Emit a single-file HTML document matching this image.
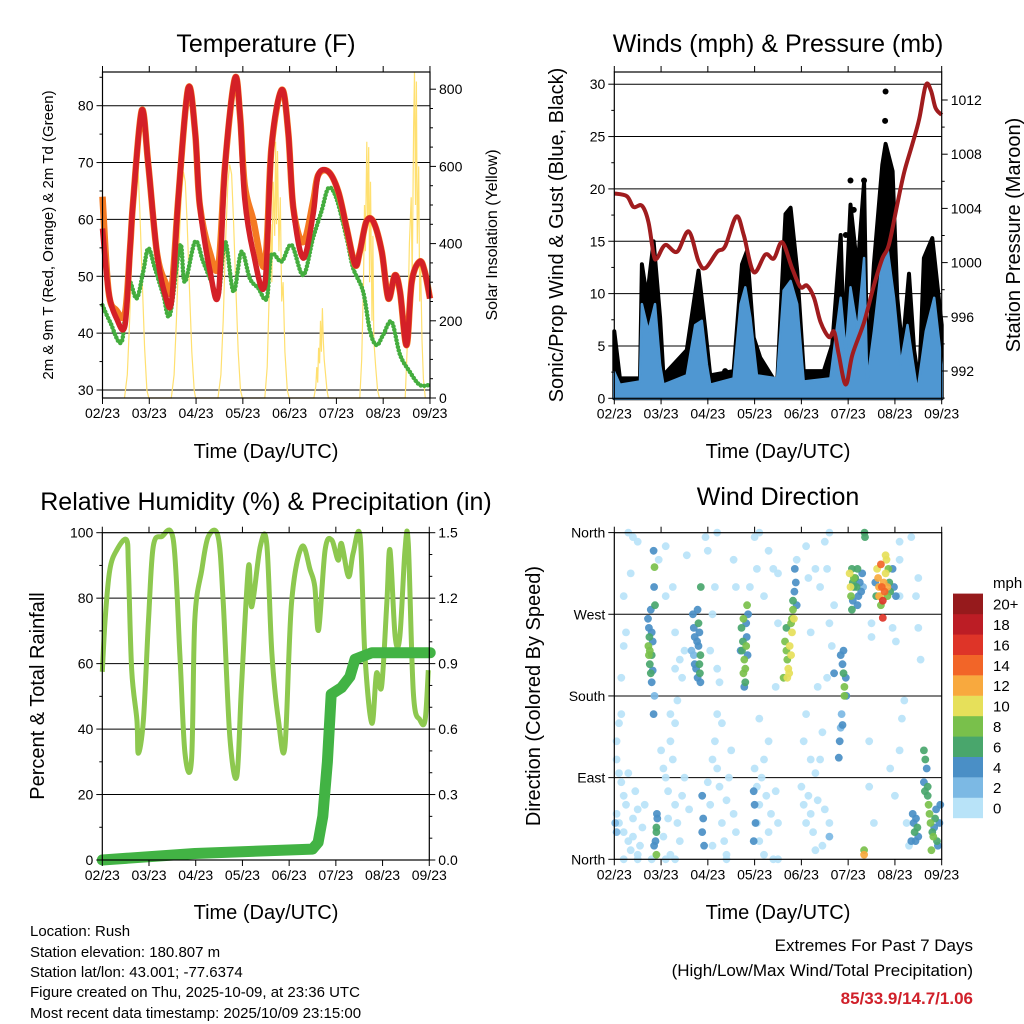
<!DOCTYPE html>
<html><head><meta charset="utf-8"><style>
html,body{margin:0;padding:0;background:#fff;}
svg{display:block;font-family:"Liberation Sans",sans-serif;}
</style></head><body>
<svg id="chart" width="1024" height="1024" viewBox="0 0 1024 1024" xmlns="http://www.w3.org/2000/svg">
<rect width="1024" height="1024" fill="#fff"/>
<g id="layer"></g>
<text x="266" y="52" font-size="25" text-anchor="middle">Temperature (F)</text>
<text x="778" y="52" font-size="25" text-anchor="middle">Winds (mph) &amp; Pressure (mb)</text>
<text x="266" y="510" font-size="25" text-anchor="middle">Relative Humidity (%) &amp; Precipitation (in)</text>
<text x="778" y="505" font-size="25" text-anchor="middle">Wind Direction</text>
<text x="266" y="458" font-size="20" text-anchor="middle">Time (Day/UTC)</text>
<text x="778" y="458" font-size="20" text-anchor="middle">Time (Day/UTC)</text>
<text x="266" y="919" font-size="20" text-anchor="middle">Time (Day/UTC)</text>
<text x="778" y="919" font-size="20" text-anchor="middle">Time (Day/UTC)</text>
<text transform="translate(53,235) rotate(-90)" font-size="15" text-anchor="middle">2m &amp; 9m T (Red, Orange) &amp; 2m Td (Green)</text>
<text transform="translate(497,235) rotate(-90)" font-size="16" text-anchor="middle">Solar Insolation (Yellow)</text>
<text transform="translate(563,235) rotate(-90)" font-size="20" text-anchor="middle">Sonic/Prop Wind &amp; Gust (Blue, Black)</text>
<text transform="translate(1020,235) rotate(-90)" font-size="20" text-anchor="middle">Station Pressure (Maroon)</text>
<text transform="translate(44,696) rotate(-90)" font-size="20" text-anchor="middle">Percent &amp; Total Rainfall</text>
<text transform="translate(540,696) rotate(-90)" font-size="20" text-anchor="middle">Direction (Colored By Speed)</text>
<g font-size="15">
<text x="30" y="936">Location: Rush</text>
<text x="30" y="957">Station elevation: 180.807 m</text>
<text x="30" y="977">Station lat/lon: 43.001; -77.6374</text>
<text x="30" y="997">Figure created on Thu, 2025-10-09, at 23:36 UTC</text>
<text x="30" y="1018">Most recent data timestamp: 2025/10/09 23:15:00</text>
</g>
<text x="973" y="951" font-size="17" text-anchor="end">Extremes For Past 7 Days</text>
<text x="973" y="976" font-size="17" text-anchor="end">(High/Low/Max Wind/Total Precipitation)</text>
<text x="973" y="1004" font-size="17" font-weight="bold" fill="#d0202a" text-anchor="end">85/33.9/14.7/1.06</text>
</svg>
<script>
// ---------- data ----------
const dayLabels = ["02/23","03/23","04/23","05/23","06/23","07/23","08/23","09/23"];
const tempTicks = [30,40,50,60,70,80];
const solarTicks = [0,200,400,600,800];
const windTicks = [0,5,10,15,20,25,30];
const presTicks = [992,996,1000,1004,1008,1012];
const rhTicks = [0,20,40,60,80,100];
const rainTicks = ["0.0","0.3","0.6","0.9","1.2","1.5"];
const dirLabels = ["North","East","South","West","North"];
const dirTicks = [0,90,180,270,360];
const legendLabels = ["0","2","4","6","8","10","12","14","16","18","20+"];
const legendColors = ["#b8e3f8","#7cb9e4","#4a8fc6","#49a66c","#79c04b","#e6e05a","#f8a93e","#f26528","#de3428","#bc1d25","#961a1c"];

const redT = [0,0.13,0.30,0.48,0.59,0.66,0.84,0.98,1.16,1.34,1.48,1.62,1.83,1.98,2.08,2.30,2.48,2.62,2.83,2.94,3.04,3.22,3.47,3.61,3.83,3.97,4.08,4.29,4.50,4.61,4.83,5.04,5.22,5.40,5.50,5.64,5.79,5.97,6.11,6.25,6.36,6.50,6.61,6.78,6.89,7.0];
const redV = [58.4,47.3,42.6,41.4,55,63.7,79.2,69.6,54.3,46.7,45.8,63.7,83,75.4,62.5,50.8,47,69.6,84.8,78.4,63.7,54.3,48.5,72.5,82.8,75.4,61.9,53.2,60.8,67.8,68.4,64.9,58.4,52,54.3,59.6,59.6,54.3,46.1,50.2,47.3,37.9,49,52.6,50.8,46.1];
const orangeV = [64,47.3,44,43.5,55,63.7,79.2,69.6,54.3,49,48,63.7,83,75.4,62.5,54,52,69.6,84.8,78.4,66,60,52,72.5,82.8,75.4,61.9,56,63,67.8,68.4,64.9,58.4,52,54.3,59.6,59.6,54.3,46.1,50.2,47.3,37.9,49,52.6,50.8,46.1];
const greenT = [0,0.16,0.41,0.55,0.73,0.87,0.98,1.12,1.30,1.44,1.66,1.76,1.98,2.15,2.33,2.48,2.62,2.80,2.97,3.15,3.33,3.51,3.61,3.83,4.04,4.29,4.50,4.68,4.83,5.00,5.22,5.36,5.57,5.72,5.86,6.0,6.18,6.36,6.57,6.78,7.0];
const greenV = [44.9,42,38.5,49,46.1,50.8,54.9,51.4,46.7,43.2,55.5,49,56.1,52.6,49,46.7,56.1,47.3,54.3,49.6,47.9,46.1,53.7,52.6,55.5,50.2,56.7,61.4,65.5,63.7,56.7,51.4,47.3,40.3,37.9,39.7,42,36.2,33.2,30.9,30.9];
const solarT = [0.47,0.53,0.58,0.63,0.68,0.72,0.76,0.8,0.85,0.9,0.95,0.99,1.47,1.53,1.58,1.63,1.68,1.73,1.77,1.81,1.86,1.91,1.96,1.99,2.47,2.53,2.58,2.63,2.68,2.72,2.76,2.8,2.85,2.9,2.95,2.99,3.47,3.52,3.56,3.6,3.62,3.65,3.68,3.7,3.72,3.74,3.77,3.8,3.83,3.86,3.9,3.95,3.99,4.52,4.56,4.58,4.6,4.62,4.64,4.66,4.68,4.7,4.72,4.74,4.77,4.8,4.83,5.5,5.54,5.58,5.6,5.62,5.65,5.67,5.69,5.71,5.73,5.76,5.78,5.8,5.84,5.88,5.92,6.47,6.52,6.56,6.6,6.62,6.65,6.67,6.69,6.71,6.73,6.76,6.78,6.8,6.83,6.86,6.9];
const solarV = [0,60,200,380,540,610,590,480,300,130,20,0,0,60,200,380,520,586,560,450,280,120,20,0,0,60,200,400,560,605,580,460,290,120,20,0,0,80,250,450,300,560,420,664,450,640,380,520,250,300,120,20,0,0,30,80,40,130,90,200,120,233,150,100,60,20,0,0,100,300,500,380,664,450,650,300,560,200,420,150,80,20,0,0,150,400,520,300,700,845,500,820,400,600,250,350,150,50,0];

const presT = [0,0.27,0.41,0.59,0.73,0.84,0.91,1.09,1.34,1.59,1.80,1.95,2.20,2.37,2.61,2.77,2.98,3.23,3.41,3.59,3.80,3.98,4.12,4.27,4.41,4.59,4.70,4.80,4.95,5.09,5.34,5.55,5.73,5.87,6.05,6.20,6.37,6.52,6.66,6.77,6.87,7.0];
const presV = [1005.1,1004.9,1004.1,1004.2,1003.0,1000.6,1000.3,1001.3,1000.8,1002.3,1000.1,999.6,1000.8,1001.2,1003.4,1002.0,999.3,1000.6,1000.3,1001.5,999.6,998.2,998.3,997.4,995.6,994.5,994.9,993.2,991.0,993.2,995.6,998.3,1000.3,1001.3,1004.3,1006.7,1008.7,1010.6,1013.1,1012.7,1011.4,1010.9];
const windT = [0,0.12,0.55,0.59,0.73,0.87,0.98,1.05,1.55,1.73,1.87,1.98,2.05,2.55,2.70,2.80,2.91,3.05,3.48,3.62,3.77,3.91,4.05,4.62,4.84,4.95,5.05,5.20,5.34,5.41,5.55,5.70,5.84,5.98,6.12,6.27,6.37,6.48,6.66,6.84,7.0];
const windHigh = [2.5,1.3,1.6,9.0,6.4,9.0,3.2,1.3,2.2,7.0,7.4,3.2,1.3,1.9,9.0,10.6,7.7,2.2,1.9,10.3,11.2,9.0,1.6,1.9,9.6,4.3,10.6,6.4,13.4,1.6,6.4,12.2,14.4,9.6,3.2,7.0,3.9,0.6,6.4,9.6,3.2];
const gustT = [0,0.12,0.55,0.59,0.70,0.84,0.98,1.05,1.55,1.80,1.95,2.05,2.55,2.73,2.84,2.98,3.12,3.48,3.66,3.77,3.91,4.05,4.48,4.66,4.84,4.91,5.05,5.20,5.34,5.41,5.55,5.73,5.80,5.95,6.05,6.16,6.30,6.41,6.52,6.62,6.80,7.0];
const gustHigh = [6.4,1.9,1.9,12.8,9.6,15.0,7.7,2.2,4.6,12.2,6.4,2.2,2.6,12.8,14.1,5.8,3.9,1.3,17.6,18.2,12.2,2.6,2.6,5.1,15.6,5.0,18.5,12.2,20.7,2.5,12.8,22.3,24.3,21.7,9.6,4.6,11.9,4.6,1.3,13.4,15.3,7.0];
const gustOutT = [5.80,5.79,5.05,5.34,2.37,4.95,5.12];
const gustOutV = [29.3,26.5,20.8,20.8,2.6,15.6,18.0];

const rhT = [0,0.06,0.16,0.31,0.52,0.56,0.63,0.74,0.77,0.88,0.99,1.09,1.27,1.52,1.66,1.77,1.91,1.98,2.13,2.27,2.48,2.59,2.73,2.88,2.98,3.13,3.20,3.38,3.52,3.63,3.77,3.91,4.05,4.27,4.45,4.55,4.63,4.77,4.91,5.05,5.12,5.27,5.37,5.52,5.62,5.77,5.87,5.98,6.09,6.16,6.27,6.37,6.48,6.55,6.66,6.80,6.91,6.98];
const rhV = [57.5,73.3,88.6,94.7,97.8,88.6,58,42.8,32.6,42.8,73.3,95.7,98.8,97.8,63.1,32.6,30.5,73.3,88.6,98.8,98.8,78.4,37.7,25.5,53,89.6,77.4,95.7,96.7,63.1,42.8,34.6,78.4,95.7,88.6,83.5,70.3,94.7,97.8,91.6,96.7,86.6,93.7,98.8,63.1,41.8,57,53,78.4,94.7,68.2,68.2,94.7,96.7,50.9,42.8,42.8,58];
const rainT = [0,1.98,4.50,4.62,4.72,4.82,4.90,5.12,5.30,5.41,5.77,6.98,7.02];
const rainV = [0,0.03,0.05,0.08,0.2,0.45,0.76,0.79,0.84,0.92,0.95,0.95,0.95];

const dirT = [0.72,0.74,0.75,0.73,0.74,0.76,0.78,0.8,0.78,0.8,0.82,0.8,0.76,0.82,0.86,0.84,0.84,0.86,0.85,0.87,0.91,0.9,0.9,0.88,0.9,0.92,0.85,
1.68,1.7,1.72,1.65,1.7,1.72,1.78,1.8,1.82,1.8,1.84,1.82,1.83,1.84,1.85,1.77,1.75,1.78,1.88,1.9,1.88,1.92,
2.72,2.75,2.73,2.78,2.76,2.8,2.78,2.82,2.83,2.85,2.84,2.86,2.8,2.76,2.7,2.82,2.98,3.0,3.02,2.98,
3.65,3.68,3.7,3.72,3.7,3.75,3.78,3.8,3.8,3.82,3.84,3.78,3.82,3.85,3.88,3.86,3.62,3.68,3.74,3.9,
4.84,4.88,4.9,4.92,4.92,4.9,4.95,4.96,4.86,4.84,4.82,4.8,4.88,4.7,
5.03,5.05,5.06,5.08,5.1,5.12,5.15,5.18,5.2,5.22,5.25,5.28,5.3,5.32,5.08,5.1,5.35,5.36,5.2,5.12,
5.62,5.64,5.66,5.68,5.7,5.72,5.74,5.76,5.78,5.8,5.82,5.84,5.86,5.88,5.9,5.95,5.98,6.02,5.74,5.6,5.58,5.7,5.66,5.84,5.8,
6.38,6.4,6.42,6.45,6.48,6.5,6.44,6.35,
6.62,6.65,6.68,6.62,6.64,6.7,6.7,6.72,6.74,6.76,6.8,6.82,6.84,6.86,6.88,6.9,6.95,6.92,6.78,6.97,5.34,5.34,
0.3,0.4,0.5,0.35,0.2,0.15,0.2,0.25,0.95,1.1,1.1,1.25,1.3,1.3,1.45,1.4,1.5,1.55,1.95,2.0,2.2,2.15,2.1,2.05,2.2,2.25,2.55,2.6,2.9,3.0,3.05,3.1,3.2,3.3,3.4,3.5,3.5,3.45,3.9,4.1,4.15,4.2,4.3,4.4,4.5,4.6,4.55,4.35,4.55,4.6,4.7,4.65,5.5,5.5,5.95,6.02,6.1,6.35,6.45,6.5,6.5,6.55,6.1,6.1,
0.05,0.1,0.15,0.05,0.1,0.15,0.2,0.25,0.05,0.1,0.2,0.3,0.35,0.4,0.45,0.5,0.6,0.55,0.3,0.4,0.5,0.65,0.05,0.02,
1.0,1.05,1.1,1.15,1.2,1.2,1.25,1.3,1.35,1.4,1.45,1.3,1.15,1.05,1.2,1.5,1.6,1.35,
2.0,2.05,2.1,2.15,2.2,2.25,2.3,2.35,2.4,2.45,2.5,2.55,2.6,2.2,2.3,2.4,2.1,
3.0,3.05,3.1,3.05,3.1,3.15,3.2,3.25,3.3,3.35,3.2,3.45,3.5,3.1,3.3,
4.0,4.05,4.1,4.15,4.2,4.25,4.3,4.35,4.4,4.45,4.5,4.05,4.1,4.2,4.45,4.3,4.6,4.6,
5.45,5.45,5.55,5.9,6.0,6.2,6.15,6.1,6.25,6.3,
0.2,0.5,0.8,1.1,1.3,2.4,3.4,3.5];
const dirDeg = [265,255,245,235,225,215,205,195,275,250,240,225,230,208,180,160,340,322,300,280,50,35,30,20,5,45,15,
270,255,245,230,225,215,275,260,250,235,225,215,205,195,300,240,210,200,70,45,30,15,
255,240,230,220,205,195,190,260,245,225,280,270,210,265,230,235,75,60,40,20,
240,230,220,210,200,235,225,250,265,275,265,260,285,295,305,320,200,255,205,280,
225,215,205,190,180,230,200,180,160,145,130,112,148,205,
315,300,290,320,305,300,310,300,320,290,305,295,315,300,275,285,360,355,280,310,
320,310,300,290,325,300,285,305,295,315,330,300,320,305,295,320,300,290,266,290,305,280,290,290,335,
50,40,30,45,35,25,20,20,
120,110,100,85,75,80,70,60,50,40,30,25,35,45,55,20,40,15,10,60,5,10,
360,355,350,315,290,200,235,250,330,345,290,300,250,210,200,220,230,335,355,340,360,300,270,230,210,195,330,300,300,355,320,360,290,340,320,315,260,190,330,345,310,250,320,300,350,360,320,190,200,260,280,235,260,245,255,240,330,355,290,310,255,220,290,350,
130,150,160,110,95,85,70,60,50,40,30,20,10,45,75,55,35,15,95,25,5,60,30,40,
120,100,90,75,130,160,110,60,40,20,70,150,45,25,5,90,55,175,
85,60,110,130,100,80,40,20,65,90,120,50,30,160,150,5,15,
100,80,60,40,20,90,110,70,30,50,5,75,40,155,130,
80,60,40,70,50,30,95,65,110,15,55,130,160,110,140,10,40,25,
130,80,40,100,70,175,155,120,40,15,
0,0,0,0,0,0,0,0];
const dirSpd = [4,4,6,8,8,7,6,4,4,5,4,7,8,4,3,4,4,8,4,6,4,6,6,5,8,4,4,
4,4,4,3,3,4,4,6,4,4,6,6,6,4,6,4,4,4,4,4,4,4,
6,6,6,8,8,6,4,4,4,4,8,4,8,8,4,8,4,4,4,4,
8,8,8,10,10,10,10,10,8,8,10,8,6,4,4,4,8,6,10,4,
4,4,6,8,8,4,4,4,3,3,4,4,4,4,
10,10,8,6,6,6,6,6,6,4,4,4,4,2,6,4,6,6,4,8,
10,12,12,10,14,14,16,12,14,10,10,12,8,6,6,4,4,4,16,6,4,8,12,8,10,
4,4,6,4,6,4,4,4,
6,6,4,4,6,6,6,8,8,8,6,8,4,6,4,6,4,4,8,4,12,8,
1,1,1,1,1,1,1,1,1,1,1,1,1,1,1,1,1,1,1,1,1,1,1,1,1,1,1,1,1,1,1,1,1,1,1,1,1,1,1,1,1,1,1,1,1,1,1,1,1,1,1,1,1,1,1,1,1,1,1,1,1,1,1,1,
1,1,1,1,1,1,1,1,1,1,1,1,1,1,1,1,1,1,1,1,1,1,3,2,
1,1,1,1,1,1,1,1,1,1,1,1,1,1,1,1,1,1,
1,1,1,1,1,1,1,1,1,1,1,1,1,1,1,1,1,
1,1,1,1,1,1,1,1,1,1,1,1,1,1,1,
1,1,1,1,1,1,1,1,1,1,1,1,1,1,1,1,1,2,
1,1,1,1,1,1,1,1,1,1,
1,1,1,1,1,1,1,1];

// ---------- helpers ----------
const NS = "http://www.w3.org/2000/svg";
const layer = document.getElementById('layer');
function mk(tag, attrs, parent){
  const e = document.createElementNS(NS, tag);
  for (const k in attrs) e.setAttribute(k, attrs[k]);
  (parent || layer).appendChild(e);
  return e;
}
function pts(ts, vs, xf, yf){ return ts.map((t,i)=> xf(t).toFixed(1)+","+yf(vs[i]).toFixed(1)).join(" "); }
function smooth(ts, vs, xf, yf){
  const P = ts.map((t,i)=>[xf(t), yf(vs[i])]);
  let d = "M"+P[0][0].toFixed(1)+","+P[0][1].toFixed(1);
  for (let i=0;i<P.length-1;i++){
    const p0=P[Math.max(0,i-1)], p1=P[i], p2=P[i+1], p3=P[Math.min(P.length-1,i+2)];
    const c1=[p1[0]+(p2[0]-p0[0])/6, p1[1]+(p2[1]-p0[1])/6];
    const c2=[p2[0]-(p3[0]-p1[0])/6, p2[1]-(p3[1]-p1[1])/6];
    d += " C"+c1[0].toFixed(1)+","+c1[1].toFixed(1)+" "+c2[0].toFixed(1)+","+c2[1].toFixed(1)+" "+p2[0].toFixed(1)+","+p2[1].toFixed(1);
  }
  return d;
}

// scales
const P1 = {x0:102.5, x1:430, y0:72, y1:398};
const P2 = {x0:614.3, x1:941.7, y0:72, y1:398.3};
const P3 = {x0:102.3, x1:429.3, y0:532.7, y1:860};
const P4 = {x0:614.3, x1:941.7, y0:532.7, y1:859.3};
const x1s = d => P1.x0 + d*46.78;
const tempY = v => 390 - (v-30)*5.686;
const solarY = v => 398 - v*0.386;
const x2s = d => P2.x0 + d*46.77;
const windY = v => 398.3 - v*10.47;
const presY = p => 371 - (p-992)*13.55;
const x3s = d => P3.x0 + d*46.71;
const rhY = v => 860 - v*3.273;
const rainY = v => 860 - v*218.2;
const x4s = d => P4.x0 + d*46.77;
const dirY = v => 859.3 - v*0.9075;

function gridLine(P, y, name){
  const g = mk('line',{x1:P.x0,x2:P.x1,y1:y,y2:y,stroke:'#000','stroke-width':1});
  
  
}
function xAxis(P, xf, prefix){
  dayLabels.forEach((lab,i)=>{
    const x = xf(i);
    const tb = mk('line',{x1:x,x2:x,y1:P.y1,y2:P.y1+6,stroke:'#000','stroke-width':1});
    
    
    const tt = mk('line',{x1:x,x2:x,y1:P.y0,y2:P.y0-6,stroke:'#000','stroke-width':1});
    
    
    const t = mk('text',{x:x,y:P.y1+20,'font-size':14,'text-anchor':'middle'});
    t.textContent = lab;
    
    
  });
}
function yTicks(xEdge, dir, values, yf, labels, minor, prefix){
  values.forEach((v,i)=>{
    const y = yf(v);
    const tk = mk('line',{x1:xEdge,x2:xEdge+dir*6,y1:y,y2:y,stroke:'#000','stroke-width':1});
    
    
    if (labels){
      const t = mk('text',{x:xEdge+dir*9,y:y+5,'font-size':14,'text-anchor':dir<0?'end':'start'});
      t.textContent = labels[i];
      
      
    }
  });
  minor.forEach(v=>{
    const y = yf(v);
    const tk = mk('line',{x1:xEdge,x2:xEdge+dir*3,y1:y,y2:y,stroke:'#000','stroke-width':1});
    
    
  });
}
function frame(P, name){
  const r = mk('rect',{x:P.x0,y:P.y0,width:P.x1-P.x0,height:P.y1-P.y0,fill:'none',stroke:'#000','stroke-width':1.2});
  
  
}

// ---------- Panel 1: temperature ----------
tempTicks.forEach(v=>gridLine(P1, tempY(v), 'temp-gridline'));
const sol = mk('polyline',{points:pts(solarT,solarV,x1s,solarY),fill:'none',stroke:'#ffe070','stroke-width':1.2});


const gr = mk('path',{d:smooth(greenT,greenV,x1s,tempY),fill:'none',stroke:'#44ad3e','stroke-width':4.5,'stroke-linejoin':'round','stroke-linecap':'round','stroke-dasharray':'0 3.5'});


const org = mk('path',{d:smooth(redT,orangeV,x1s,tempY),fill:'none',stroke:'#f47a22','stroke-width':6.5,'stroke-linejoin':'round'});


const red = mk('path',{d:smooth(redT,redV,x1s,tempY),fill:'none',stroke:'#d42027','stroke-width':5.5,'stroke-linejoin':'round'});


frame(P1,'temp-plot-frame');
xAxis(P1, x1s, 'temp');
yTicks(P1.x0,-1,tempTicks,tempY,tempTicks.map(String),[35,45,55,65,75,85],'temp-y');
yTicks(P1.x1,1,solarTicks,solarY,solarTicks.map(String),[50,100,150,250,300,350,450,500,550,650,700,750],'solar-y');

// ---------- Panel 2: winds ----------
windTicks.slice(1).forEach(v=>gridLine(P2, windY(v), 'wind-gridline'));
const gustPoly = gustT.map((t,i)=>x2s(t).toFixed(1)+","+windY(gustHigh[i]).toFixed(1)).join(" ") + " " + x2s(7).toFixed(1)+","+windY(0)+" "+x2s(0)+","+windY(0);
const gust = mk('polygon',{points:gustPoly,fill:'#000',stroke:'#000','stroke-width':4,'stroke-linejoin':'round'});


gustOutT.forEach((t,i)=>{
  const c = mk('circle',{cx:x2s(t),cy:windY(gustOutV[i]),r:3,fill:'#000'});
  
  
});
const bluePoly = windT.map((t,i)=>x2s(t).toFixed(1)+","+windY(windHigh[i]).toFixed(1)).join(" ") + " " + x2s(7).toFixed(1)+","+windY(0)+" "+x2s(0)+","+windY(0);
const blue = mk('polygon',{points:bluePoly,fill:'#4f97d2',stroke:'#4f97d2','stroke-width':2.5,'stroke-linejoin':'round'});


const pres = mk('path',{d:smooth(presT,presV,x2s,presY),fill:'none',stroke:'#a01c1e','stroke-width':4,'stroke-linejoin':'round'});


frame(P2,'wind-plot-frame');
xAxis(P2, x2s, 'wind');
yTicks(P2.x0,-1,windTicks,windY,windTicks.map(String),[2.5,7.5,12.5,17.5,22.5,27.5],'wind-y');
yTicks(P2.x1,1,presTicks,presY,presTicks.map(String),[990,994,998,1002,1006,1010],'pressure-y');

// ---------- Panel 3: humidity ----------
rhTicks.slice(1,5).forEach(v=>gridLine(P3, rhY(v), 'rh-gridline'));
const rh = mk('path',{d:smooth(rhT,rhV,x3s,rhY),fill:'none',stroke:'#8dc84f','stroke-width':5,'stroke-linejoin':'round'});


const rain = mk('polyline',{points:pts(rainT,rainV,x3s,rainY),fill:'none',stroke:'#42b344','stroke-width':11,'stroke-linejoin':'round','stroke-linecap':'round'});


frame(P3,'rh-plot-frame');
xAxis(P3, x3s, 'rh');
yTicks(P3.x0,-1,rhTicks,rhY,rhTicks.map(String),[10,30,50,70,90],'rh-y');
yTicks(P3.x1,1,rainTicks.map(Number),rainY,rainTicks,[0.1,0.2,0.4,0.5,0.7,0.8,1.0,1.1,1.3,1.4],'rain-y');

// ---------- Panel 4: wind direction ----------
[90,180,270].forEach(v=>gridLine(P4, dirY(v), 'dir-gridline'));
function binColor(s){ const b = Math.min(10, Math.floor(s/2)); return legendColors[b]; }
const order = dirT.map((t,i)=>i).sort((a,b)=>dirSpd[a]-dirSpd[b]);
order.forEach(i=>{
  const c = mk('circle',{cx:x4s(dirT[i]).toFixed(1),cy:dirY(dirDeg[i]).toFixed(1),r:3.9,fill:binColor(dirSpd[i]),'fill-opacity':0.92});
  
  
});
frame(P4,'dir-plot-frame');
xAxis(P4, x4s, 'dir');
yTicks(P4.x0,-1,dirTicks,dirY,dirLabels,[],'dir-y');
const mphT = mk('text',{x:993,y:588,'font-size':15});
mphT.textContent = 'mph';


legendLabels.forEach((lab,i)=>{
  const y = 818 - (i+1)*20.4;
  const r = mk('rect',{x:953,y:y,width:30,height:20.6,fill:legendColors[i]});
  
  
  const t = mk('text',{x:993,y:y+16,'font-size':15});
  t.textContent = lab;
  
  
});
</script>
</body></html>
